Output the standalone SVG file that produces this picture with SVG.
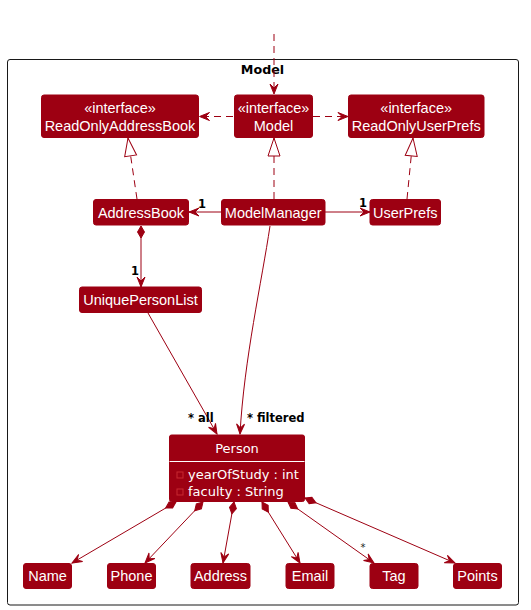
<svg xmlns="http://www.w3.org/2000/svg" width="531" height="610" viewBox="0 0 531 610">
<style>
.box{fill:#9D0012;stroke:#9D0012;stroke-width:1}
.nt{font-family:"Liberation Sans",Arial,sans-serif;font-size:14.5px;fill:#FFFFFF;text-anchor:middle}
.dj{font-family:"DejaVu Sans",sans-serif;font-size:13px;fill:#FFFFFF}
.lbl{font-family:"DejaVu Sans",sans-serif;font-size:11.5px;font-weight:bold;fill:#000000}
.e{fill:none;stroke:#9D0012;stroke-width:1}
.d{stroke-dasharray:7,5}
</style>
<defs>
<marker id="arr" markerUnits="userSpaceOnUse" markerWidth="12" markerHeight="10" refX="10" refY="4" orient="auto" viewBox="0 0 12 10" overflow="visible">
<path d="M0,0 L10,4 L0,8 L4,4 Z" fill="#9D0012" stroke="#9D0012" stroke-width="1" stroke-dasharray="none"/>
</marker>
<marker id="tri" markerUnits="userSpaceOnUse" markerWidth="20" markerHeight="14" refX="18" refY="6" orient="auto" viewBox="0 0 20 14" overflow="visible">
<path d="M0,0 L18,6 L0,12 Z" fill="#FFFFFF" stroke="#9D0012" stroke-width="1" stroke-dasharray="none"/>
</marker>
<marker id="dia" markerUnits="userSpaceOnUse" markerWidth="14" markerHeight="10" refX="0" refY="4" orient="auto" viewBox="0 0 14 10" overflow="visible">
<path d="M0,4 L6,0.5 L12,4 L6,7.5 Z" fill="#9D0012" stroke="#9D0012" stroke-width="1"/>
</marker>
</defs>

<g id="package-Model">
<rect x="7.5" y="59.5" width="511" height="545.5" rx="2.5" fill="none" stroke="#181818" stroke-width="1"/>
<text x="262.5" y="74" text-anchor="middle" font-family="DejaVu Sans, sans-serif" font-size="12.7px" font-weight="bold">Model</text>
</g>

<g id="connectors">
<path class="e d" d="M274,34 L274,94" marker-end="url(#arr)"/>
<path class="e d" d="M233,116.5 L199.5,116.5" marker-end="url(#arr)"/>
<path class="e d" d="M313,116.5 L348,116.5" marker-end="url(#arr)"/>
<path class="e d" d="M137,199 L128,138" marker-end="url(#tri)"/>
<path class="e d" d="M274,199 L274,138" marker-end="url(#tri)"/>
<path class="e d" d="M407,199 L413,138" marker-end="url(#tri)"/>
<path class="e" d="M221,212 L189,212" marker-end="url(#arr)"/>
<path class="e" d="M325,212 L370,212" marker-end="url(#arr)"/>
<path class="e" d="M141,226 L141,287" marker-start="url(#dia)" marker-end="url(#arr)"/>
<path class="e" d="M148,313 L217,434" marker-end="url(#arr)"/>
<path class="e" d="M270,226 C262,280 244,360 240,434" marker-end="url(#arr)"/>
<path class="e" d="M176,502 L72,563" marker-start="url(#dia)" marker-end="url(#arr)"/>
<path class="e" d="M203,502 L145,563" marker-start="url(#dia)" marker-end="url(#arr)"/>
<path class="e" d="M234,502 L223,563" marker-start="url(#dia)" marker-end="url(#arr)"/>
<path class="e" d="M262,502 L300,563" marker-start="url(#dia)" marker-end="url(#arr)"/>
<path class="e" d="M288,502 L374,563" marker-start="url(#dia)" marker-end="url(#arr)"/>
<path class="e" d="M305,498 L455,563" marker-start="url(#dia)" marker-end="url(#arr)"/>
<text class="lbl" x="198" y="208">1</text>
<text class="lbl" x="359" y="207">1</text>
<text class="lbl" x="131" y="275">1</text>
<text class="lbl" x="188" y="422">* all</text>
<text class="lbl" x="247" y="422">* filtered</text>
<text x="363" y="551" text-anchor="middle" font-family="DejaVu Sans, sans-serif" font-size="10px" fill="#222222">*</text>
</g>

<g id="node-ReadOnlyAddressBook">
<rect class="box" x="41.5" y="95" width="157" height="42.5" rx="2.5"/>
<text class="nt" x="120" y="113">«interface»</text>
<text class="nt" x="120" y="131">ReadOnlyAddressBook</text>
</g>
<g id="node-Model">
<rect class="box" x="234.5" y="95" width="78" height="42.5" rx="2.5"/>
<text class="nt" x="273.5" y="113">«interface»</text>
<text class="nt" x="273.5" y="131">Model</text>
</g>
<g id="node-ReadOnlyUserPrefs">
<rect class="box" x="348.5" y="95" width="135.5" height="42.5" rx="2.5"/>
<text class="nt" x="416.2" y="113">«interface»</text>
<text class="nt" x="416.2" y="131">ReadOnlyUserPrefs</text>
</g>
<g id="node-AddressBook">
<rect class="box" x="93.5" y="199.5" width="95" height="25.5" rx="2.5"/>
<text class="nt" x="141" y="217.5">AddressBook</text>
</g>
<g id="node-ModelManager">
<rect class="box" x="221.5" y="199.5" width="103.5" height="25.5" rx="2.5"/>
<text class="nt" x="273.2" y="217.5">ModelManager</text>
</g>
<g id="node-UserPrefs">
<rect class="box" x="370" y="199.5" width="70.5" height="25.5" rx="2.5"/>
<text class="nt" x="405.2" y="217.5">UserPrefs</text>
</g>
<g id="node-UniquePersonList">
<rect class="box" x="79.5" y="287" width="122" height="25.5" rx="2.5"/>
<text class="nt" x="140.5" y="305">UniquePersonList</text>
</g>
<g id="node-Person">
<rect class="box" x="169.5" y="435" width="135" height="66.5" rx="2"/>
<line x1="169.5" y1="461.5" x2="304.5" y2="461.5" stroke="#FFFFFF" stroke-width="1"/>
<text class="dj" x="237" y="453" text-anchor="middle">Person</text>
<rect x="177" y="472" width="6" height="6" fill="none" stroke="#C82930" stroke-width="1"/>
<text class="dj" x="188" y="478.5">yearOfStudy : int</text>
<rect x="177" y="489" width="6" height="6" fill="none" stroke="#C82930" stroke-width="1"/>
<text class="dj" x="188" y="495.5">faculty : String</text>
</g>
<g id="node-Name">
<rect class="box" x="23.5" y="563.5" width="48" height="25" rx="2.5"/>
<text class="nt" x="47.5" y="581">Name</text>
</g>
<g id="node-Phone">
<rect class="box" x="107.5" y="563.5" width="48" height="25" rx="2.5"/>
<text class="nt" x="131.5" y="581">Phone</text>
</g>
<g id="node-Address">
<rect class="box" x="191" y="563.5" width="59" height="25" rx="2.5"/>
<text class="nt" x="220.5" y="581">Address</text>
</g>
<g id="node-Email">
<rect class="box" x="286" y="563.5" width="48" height="25" rx="2.5"/>
<text class="nt" x="310" y="581">Email</text>
</g>
<g id="node-Tag">
<rect class="box" x="370" y="563.5" width="48" height="25" rx="2.5"/>
<text class="nt" x="394" y="581">Tag</text>
</g>
<g id="node-Points">
<rect class="box" x="453.5" y="563.5" width="48" height="25" rx="2.5"/>
<text class="nt" x="477.5" y="581">Points</text>
</g>
</svg>
